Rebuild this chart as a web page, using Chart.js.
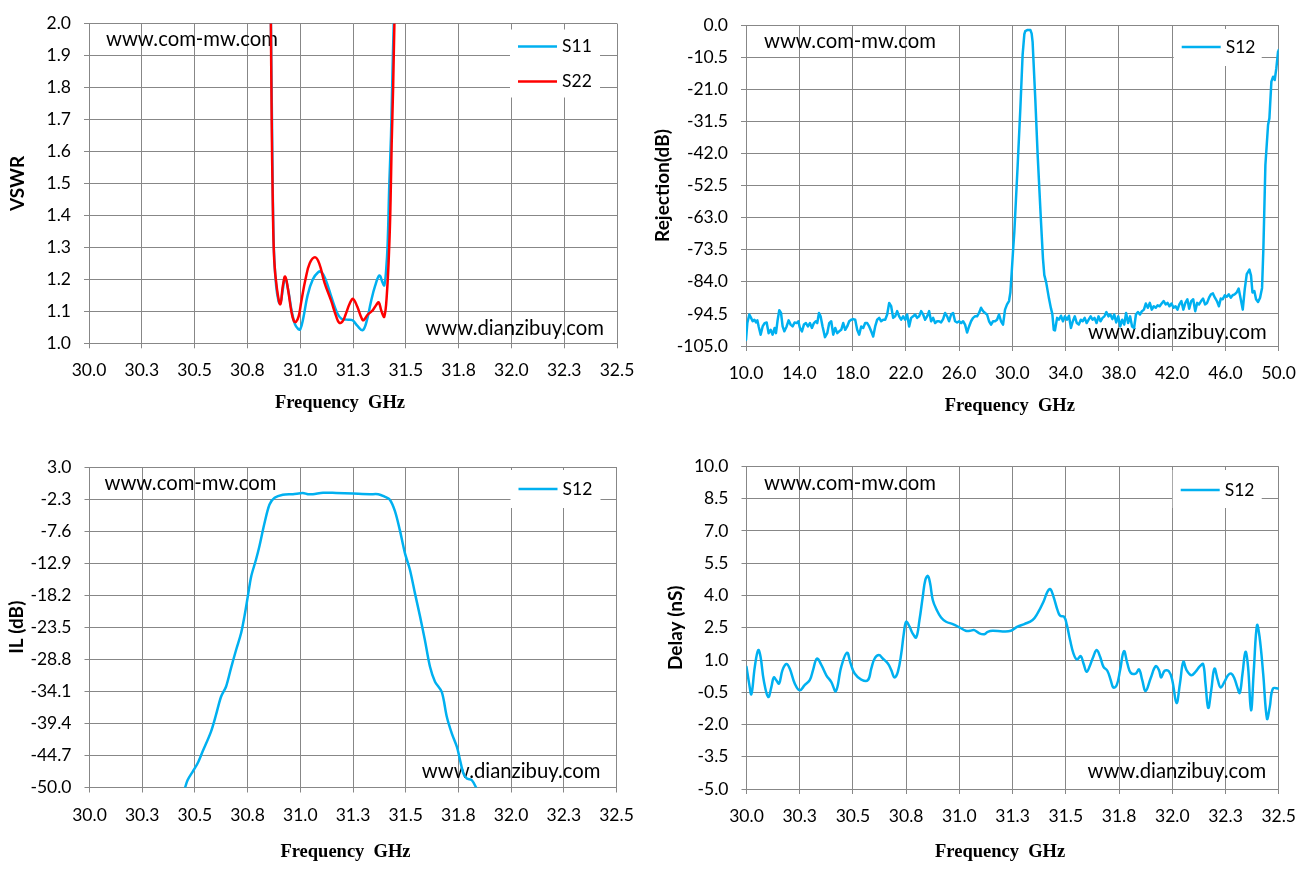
<!DOCTYPE html>
<html><head><meta charset="utf-8">
<script src="https://cdn.jsdelivr.net/npm/chart.js@4.4.0/dist/chart.umd.min.js"></script>
<style>
html,body{margin:0;padding:0;background:#fff;width:1308px;height:871px;overflow:hidden}
.box{position:absolute;width:654px}
</style></head><body>
<div class="box" style="left:0;top:0;height:435px"><canvas id="c1"></canvas></div>
<div class="box" style="left:654px;top:0;height:435px"><canvas id="c2"></canvas></div>
<div class="box" style="left:0;top:435px;height:436px"><canvas id="c3"></canvas></div>
<div class="box" style="left:654px;top:435px;height:436px"><canvas id="c4"></canvas></div>
<script>
// ---------------- DATA ----------------
const watermarkTop = 'www.com-mw.com';
const watermarkBottom = 'www.dianzibuy.com';
const xTitle = 'Frequency  GHz';

// Chart 1: VSWR
const vswrF11 = [30.860,30.868,30.875,30.886,30.898,30.906,30.918,30.929,30.945,30.960,30.975,30.990,31.000,31.015,31.035,31.060,31.085,31.100,31.120,31.150,31.175,31.195,31.220,31.248,31.270,31.296,31.315,31.335,31.355,31.375,31.390,31.398,31.407,31.414,31.422,31.430,31.437,31.443,31.450];
const vswrS11 = [2.10,1.60,1.30,1.18,1.13,1.125,1.17,1.205,1.16,1.10,1.06,1.045,1.043,1.08,1.15,1.20,1.222,1.223,1.20,1.14,1.095,1.077,1.074,1.072,1.055,1.041,1.07,1.13,1.18,1.212,1.19,1.181,1.23,1.31,1.50,1.65,1.85,2.00,2.15];
const vswrF22 = [30.860,30.865,30.870,30.877,30.890,30.906,30.918,30.929,30.942,30.958,30.970,30.980,30.993,31.005,31.025,31.045,31.070,31.090,31.115,31.146,31.170,31.185,31.200,31.215,31.235,31.250,31.270,31.290,31.300,31.320,31.343,31.360,31.372,31.385,31.398,31.410,31.422,31.428,31.433,31.440,31.446,31.452];
const vswrS22 = [2.10,1.70,1.45,1.26,1.17,1.122,1.18,1.209,1.17,1.10,1.07,1.067,1.085,1.13,1.20,1.25,1.269,1.25,1.19,1.134,1.085,1.064,1.068,1.09,1.125,1.139,1.115,1.08,1.072,1.09,1.103,1.12,1.128,1.10,1.083,1.15,1.31,1.45,1.62,1.80,2.00,2.15];
const vswrXTickValues = [30,30.25,30.5,30.75,31,31.25,31.5,31.75,32,32.25,32.5];
const vswrXTickLabels = ['30.0','30.3','30.5','30.8','31.0','31.3','31.5','31.8','32.0','32.3','32.5'];
const vswrYTickLabels = ['1.0','1.1','1.2','1.3','1.4','1.5','1.6','1.7','1.8','1.9','2.0'];

// Chart 2: Rejection
const rejF = [10.0,10.1,10.25,10.38,10.5,10.63,10.75,10.85,10.95,11.1,11.25,11.4,11.55,11.7,11.85,12.0,12.15,12.25,12.38,12.5,12.63,12.75,12.88,13.05,13.2,13.35,13.5,13.65,13.8,13.93,14.05,14.2,14.35,14.5,14.65,14.8,14.95,15.1,15.25,15.35,15.48,15.6,15.75,15.93,16.1,16.25,16.4,16.55,16.7,16.85,17.0,17.15,17.3,17.45,17.6,17.75,17.9,18.05,18.2,18.35,18.5,18.65,18.8,18.95,19.1,19.25,19.4,19.55,19.7,19.85,20.0,20.15,20.3,20.45,20.6,20.75,20.9,21.05,21.2,21.35,21.5,21.65,21.8,21.95,22.1,22.25,22.4,22.55,22.7,22.85,23.0,23.15,23.3,23.45,23.6,23.75,23.9,24.05,24.2,24.35,24.5,24.65,24.8,24.95,25.1,25.25,25.4,25.55,25.7,25.85,26.0,26.15,26.3,26.45,26.6,26.75,26.9,27.05,27.2,27.35,27.5,27.65,27.8,27.95,28.1,28.25,28.4,28.55,28.7,28.85,29.0,29.15,29.3,29.45,29.6,29.75,29.85,29.95,30.05,30.15,30.4,30.6,30.77,30.9,30.97,31.15,31.35,31.45,31.52,31.72,31.9,32.15,32.3,32.4,32.54,32.75,32.9,33.0,33.11,33.2,33.36,33.5,33.65,33.8,33.95,34.1,34.25,34.4,34.54,34.69,34.84,34.99,35.14,35.28,35.43,35.58,35.73,35.88,36.02,36.17,36.32,36.47,36.62,36.77,36.91,37.06,37.21,37.36,37.51,37.65,37.8,37.95,38.1,38.25,38.4,38.54,38.69,38.84,38.99,39.14,39.28,39.43,39.58,39.73,39.88,40.02,40.17,40.32,40.47,40.62,40.77,40.91,41.06,41.21,41.36,41.51,41.65,41.8,41.95,42.1,42.25,42.4,42.54,42.69,42.84,42.99,43.14,43.28,43.43,43.58,43.73,43.88,44.02,44.17,44.32,44.47,44.62,44.77,44.91,45.06,45.21,45.36,45.51,45.65,45.8,45.95,46.1,46.25,46.4,46.54,46.69,46.84,46.99,47.14,47.3,47.45,47.6,47.8,47.92,48.03,48.17,48.3,48.45,48.6,48.75,48.85,49.0,49.2,49.3,49.45,49.58,49.7,49.82,49.95,50.0];
const rejS12 = [-103,-97.5,-94.7,-95.8,-96.9,-96.4,-97.3,-96.6,-98.6,-101.3,-98.6,-97.5,-97.3,-100.8,-99.7,-101.3,-99.1,-100.8,-96.4,-93.3,-94.2,-98.6,-100.2,-98.6,-96.6,-98.0,-98.6,-97.3,-97.5,-96.9,-99.1,-100.2,-98.0,-97.5,-98.6,-97.5,-99.1,-97.5,-96.9,-97.5,-94.2,-95.3,-98.6,-102.1,-100.8,-97.5,-96.9,-101.3,-99.1,-100.8,-100.2,-99.7,-97.5,-99.7,-98.6,-96.9,-96.4,-96.2,-96.4,-99.7,-101.3,-98.6,-99.1,-97.5,-97.5,-98.6,-100.2,-101.9,-98.6,-96.4,-95.8,-96.9,-96.4,-96.4,-94.7,-90.9,-92.0,-95.8,-95.3,-93.6,-95.3,-96.4,-95.3,-96.4,-94.7,-98.6,-95.8,-95.3,-94.7,-95.8,-95.3,-93.6,-94.7,-96.4,-95.3,-93.6,-96.9,-95.8,-97.5,-96.9,-96.9,-97.3,-96.2,-94.2,-95.3,-96.9,-94.7,-94.2,-96.9,-97.3,-96.9,-97.5,-96.9,-98.0,-100.6,-98.6,-96.9,-95.8,-95.3,-95.3,-94.2,-92.5,-93.6,-94.2,-94.7,-96.9,-98.0,-96.9,-96.9,-96.4,-94.7,-96.9,-98.0,-93.1,-91.4,-90.3,-87.5,-81.0,-74.0,-67.6,-45.8,-27.3,-9.8,-3.0,-2.0,-1.6,-1.6,-2.8,-5.5,-24.0,-42.5,-64.3,-76.5,-81.8,-84.2,-89.5,-92.7,-94.5,-99.7,-99.9,-95.8,-96.4,-95.1,-96.9,-95.3,-96.4,-95.1,-99.1,-96.9,-95.3,-97.5,-98.0,-96.4,-96.9,-95.8,-97.5,-96.4,-95.3,-96.4,-95.8,-97.5,-95.3,-96.9,-95.8,-95.3,-93.9,-95.3,-94.7,-96.2,-94.7,-97.3,-95.3,-98.6,-96.4,-98.0,-94.2,-97.5,-95.3,-98.6,-99.1,-94.7,-93.9,-94.7,-93.6,-93.1,-91.1,-92.5,-90.9,-93.1,-92.0,-92.5,-91.7,-92.0,-91.1,-90.3,-91.4,-90.9,-92.0,-91.1,-92.5,-92.0,-93.1,-91.4,-90.3,-93.1,-90.9,-89.7,-92.8,-90.3,-89.7,-93.6,-90.9,-91.4,-90.3,-89.5,-91.4,-90.9,-89.2,-88.1,-87.8,-89.2,-90.3,-92.0,-89.5,-89.7,-88.4,-88.9,-88.1,-89.2,-88.4,-88.1,-87.5,-86.2,-89.5,-93.1,-86.4,-81.5,-80.0,-82.0,-87.5,-87.0,-89.7,-90.6,-89.2,-86.0,-73.0,-45.8,-32.7,-30.5,-18.5,-16.9,-18.0,-14.2,-8.7,-8.2];
const rejXTickValues = [10,14,18,22,26,30,34,38,42,46,50];
const rejXTickLabels = ['10.0','14.0','18.0','22.0','26.0','30.0','34.0','38.0','42.0','46.0','50.0'];
const rejYTickLabels = ['-105.0','-94.5','-84.0','-73.5','-63.0','-52.5','-42.0','-31.5','-21.0','-10.5','0.0'];

// Chart 3: Insertion loss
const ilF = [30.452,30.465,30.489,30.513,30.536,30.576,30.6,30.624,30.648,30.671,30.695,30.719,30.735,30.751,30.767,30.79,30.806,30.83,30.854,30.878,30.917,30.965,31.012,31.036,31.06,31.108,31.17,31.25,31.33,31.37,31.4,31.425,31.449,31.472,31.496,31.52,31.544,31.568,31.591,31.615,31.639,31.671,31.695,31.719,31.743,31.758,31.774,31.79,31.814,31.837];
const ilS12 = [-50.2,-48.8,-47.4,-46.0,-44.1,-40.8,-38.0,-35.0,-33.3,-30.3,-27.3,-24.5,-21.7,-18.4,-15.1,-12.3,-10.1,-6.3,-3.2,-2.1,-1.6,-1.5,-1.3,-1.5,-1.5,-1.25,-1.3,-1.4,-1.5,-1.5,-1.9,-2.4,-4.3,-7.4,-11.2,-14.0,-17.9,-21.7,-25.6,-30.0,-32.5,-34.2,-38.3,-41.1,-43.3,-45.5,-47.7,-48.5,-48.8,-50.2];
const ilYTickLabels = ['-50.0','-44.7','-39.4','-34.1','-28.8','-23.5','-18.2','-12.9','-7.6','-2.3','3.0'];

// Chart 4: Group delay
const delayF = [30.0,30.0125,30.023,30.039,30.055,30.066,30.081,30.102,30.117,30.128,30.14,30.153,30.169,30.1875,30.203,30.227,30.25,30.273,30.297,30.3125,30.331,30.352,30.375,30.398,30.42,30.445,30.472,30.489,30.508,30.539,30.57,30.586,30.602,30.622,30.64,30.664,30.68,30.695,30.711,30.727,30.739,30.75,30.766,30.78,30.797,30.8125,30.828,30.84,30.852,30.8625,30.875,30.894,30.914,30.9375,30.969,31.0,31.03,31.05,31.07,31.094,31.117,31.133,31.156,31.203,31.242,31.273,31.305,31.344,31.367,31.395,31.414,31.427,31.442,31.461,31.473,31.492,31.505,31.52,31.536,31.552,31.57,31.583,31.598,31.614,31.63,31.645,31.661,31.677,31.695,31.711,31.723,31.739,31.755,31.773,31.789,31.805,31.828,31.844,31.859,31.875,31.898,31.922,31.9375,31.948,31.964,31.984,32.0,32.02,32.036,32.052,32.067,32.089,32.109,32.13,32.145,32.156,32.169,32.183,32.198,32.214,32.227,32.245,32.262,32.277,32.292,32.305,32.317,32.33,32.344,32.356,32.37,32.383,32.398,32.41,32.427,32.445,32.458,32.473,32.5];
const delayS12 = [0.68,-0.1,-0.59,0.68,1.46,1.15,0.06,-0.72,-0.25,0.19,0.06,-0.1,0.53,0.81,0.6,-0.1,-0.41,-0.17,0.06,0.53,1.07,0.76,0.29,-0.02,-0.45,0.68,1.34,0.84,0.37,0.09,0.06,0.6,1.07,1.23,1.07,0.84,0.53,0.19,0.45,1.3,2.24,2.78,2.55,2.24,2.05,2.86,3.95,4.72,4.91,4.57,3.79,3.32,2.98,2.78,2.67,2.52,2.36,2.36,2.39,2.24,2.2,2.31,2.36,2.33,2.36,2.55,2.67,2.86,3.17,3.71,4.18,4.3,3.95,3.32,3.06,3.01,2.62,1.93,1.3,1.02,1.18,0.84,0.45,0.76,1.18,1.46,1.15,0.68,0.5,0.06,-0.28,-0.17,0.53,1.41,0.84,0.4,0.37,0.56,0.06,-0.44,0.14,0.71,0.53,0.19,0.5,0.48,0.06,-1.0,-0.1,0.92,0.53,0.29,0.45,0.71,0.81,-0.1,-1.23,-0.41,0.6,0.06,-0.28,-0.02,0.29,0.37,0.14,-0.25,-0.53,0.37,1.38,0.68,-1.34,0.53,2.62,2.08,0.37,-1.73,-1.18,-0.33,-0.33];
const delayYTickLabels = ['-5.0','-3.5','-2.0','-0.5','1.0','2.5','4.0','5.5','7.0','8.5','10.0'];

// ---------------- STYLE / HELPERS ----------------
const GRID = '#878787';
const BLUE = '#00B0F0';
const RED = '#FF0000';
const TICK_FONT = {family: 'Lato', size: 17.5};
const pts = (xs, ys) => xs.map((x, i) => ({x: x, y: ys[i]}));

function xAxis(vals, labels, min, max, h) {
  return {
    type: 'linear', min: min, max: max,
    afterBuildTicks: s => { s.ticks = vals.map(v => ({value: v})); },
    afterFit: s => { s.height = h; },
    ticks: {callback: (v, i) => labels[i], font: TICK_FONT, color: '#000', padding: 12, maxRotation: 0, autoSkip: false},
    grid: {color: GRID, lineWidth: 1, tickLength: 5},
    border: {color: GRID, width: 1},
    title: {display: false}
  };
}
function yAxis(labels, w, title, padT) {
  const vals = labels.map(parseFloat);
  return {
    type: 'linear', min: vals[0], max: vals[vals.length - 1],
    afterBuildTicks: s => { s.ticks = vals.map(v => ({value: v})); },
    afterFit: s => { s.width = w; },
    ticks: {callback: (v, i) => labels[i], font: TICK_FONT, color: '#000', padding: 13, autoSkip: false},
    grid: {color: GRID, lineWidth: 1, tickLength: 5},
    border: {color: GRID, width: 1},
    title: {display: true, text: title, color: '#000',
      font: {family: 'Lato', size: 19, weight: 'bold'}, padding: {top: padT, bottom: 0}}
  };
}

const decor = {
  id: 'decor',
  beforeDatasetsDraw(chart, args, o) {
    const ctx = chart.ctx, a = chart.chartArea;
    ctx.save();
    ctx.font = '20px Lato';
    const k = 172 / ctx.measureText(watermarkTop).width;
    ctx.font = (20 * k).toFixed(2) + 'px Lato';
    ctx.fillStyle = '#000';
    ctx.textBaseline = 'middle';
    ctx.textAlign = 'left';
    ctx.fillText(watermarkTop, a.left + o.wm1[0], a.top + o.wm1[1]);
    ctx.textAlign = 'right';
    ctx.fillText(watermarkBottom, a.right - o.wm2[0], a.bottom - o.wm2[1]);
    // x axis title
    ctx.font = 'bold 18.5px "Liberation Serif"';
    ctx.textAlign = 'center';
    ctx.fillText(xTitle, (a.left + a.right) / 2 + o.title[0], a.bottom + o.title[1]);
    ctx.restore();
  },
  afterDatasetsDraw(chart, args, o) {
    const ctx = chart.ctx, a = chart.chartArea, lg = o.legend;
    const x0 = a.right - lg.right - lg.w, y0 = a.top + lg.top;
    ctx.save();
    ctx.fillStyle = '#fff';
    ctx.fillRect(x0, y0, lg.w, lg.h);
    chart.data.datasets.forEach((ds, i) => {
      const y = y0 + lg.first + i * lg.gap;
      ctx.strokeStyle = ds.borderColor;
      ctx.lineWidth = 2.5;
      ctx.beginPath(); ctx.moveTo(x0 + 8, y); ctx.lineTo(x0 + 47, y); ctx.stroke();
      ctx.fillStyle = '#000';
      ctx.textAlign = 'left'; ctx.textBaseline = 'middle';
      ctx.font = '17.5px Lato';
      ctx.fillText(ds.label, x0 + 52, y);
    });
    ctx.restore();
  }
};

function line(label, data, color, tension, order) {
  return {label: label, data: data, borderColor: color, backgroundColor: color, borderWidth: 2.5,
    pointRadius: 0, fill: false, tension: tension, order: order, borderJoinStyle: 'round', borderCapStyle: 'round'};
}

function makeChart(id, datasets, xs, ys, pad, decorOpts) {
  return new Chart(document.getElementById(id), {
    type: 'line',
    data: {datasets: datasets},
    plugins: [decor],
    options: {
      responsive: true, maintainAspectRatio: false, animation: false,
      layout: {padding: pad},
      scales: {x: xs, y: ys},
      plugins: {legend: {display: false}, tooltip: {enabled: false}, decor: decorOpts}
    }
  });
}

function build() {
  makeChart('c1',
    [line('S11', pts(vswrF11, vswrS11), BLUE, 0.4, 1), line('S22', pts(vswrF22, vswrS22), RED, 0.4, 0)],
    xAxis(vswrXTickValues, vswrXTickLabels, 30, 32.5, 91.7),
    yAxis(vswrYTickLabels, 89, 'VSWR', 6),
    {left: 0, top: 21.5, right: 37, bottom: 0},
    {wm1: [17, 16], wm2: [13, 15], title: [-13, 60],
     legend: {right: 17, top: 6, w: 90, h: 68, first: 17, gap: 35}});

  makeChart('c2',
    [line('S12', pts(rejF, rejS12), BLUE, 0, 0)],
    xAxis(rejXTickValues, rejXTickLabels, 10, 50, 89),
    yAxis(rejYTickLabels, 92, 'Rejection(dB)', -3),
    {left: 0, top: 25, right: 28, bottom: 0},
    {wm1: [18, 16], wm2: [12, 14], title: [-2.5, 60],
     legend: {right: 17, top: 4, w: 88, h: 37, first: 18, gap: 35}});

  makeChart('c3',
    [line('S12', pts(ilF, ilS12), BLUE, 0.3, 0)],
    xAxis(vswrXTickValues, vswrXTickLabels, 30, 32.5, 83.5),
    yAxis(ilYTickLabels, 89.5, 'IL (dB)', 5.6),
    {left: 0, top: 32, right: 37.5, bottom: 0},
    {wm1: [15, 16], wm2: [16, 16], title: [-7.5, 64.5],
     legend: {right: 16, top: 3, w: 90, h: 38, first: 19, gap: 35}});

  makeChart('c4',
    [line('S12', pts(delayF, delayS12), BLUE, 0.4, 0)],
    xAxis(vswrXTickValues, vswrXTickLabels, 30, 32.5, 82),
    yAxis(delayYTickLabels, 92.5, 'Delay (nS)', 10.6),
    {left: 0, top: 31.5, right: 28.5, bottom: 0},
    {wm1: [17.5, 16.5], wm2: [12.5, 18], title: [-12.5, 63],
     legend: {right: 17, top: 3.5, w: 89, h: 38, first: 20, gap: 35}});
}

Promise.all([
  document.fonts.load('17px Lato'),
  document.fonts.load('bold 19px Lato'),
  document.fonts.load('bold 18px "Liberation Serif"')
]).then(build, build);
</script>
</body></html>
